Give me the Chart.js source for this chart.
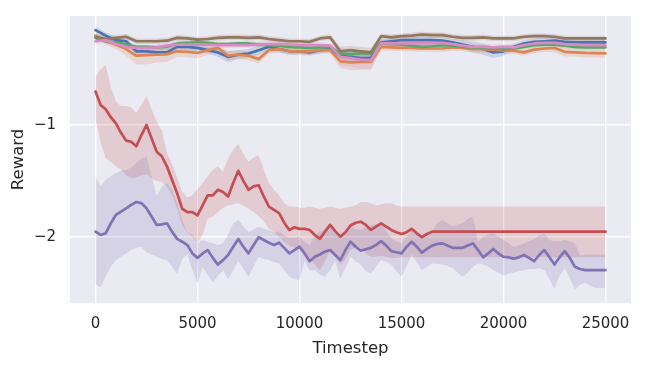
<!DOCTYPE html>
<html><head><meta charset="utf-8">
<script src="https://cdn.jsdelivr.net/npm/chart.js@4/dist/chart.umd.min.js"></script>
<style>html,body{margin:0;padding:0;background:#fff;}canvas{display:block;}</style>
</head><body>
<canvas id="c" width="647" height="367"></canvas>
<script>
// ---- data ----
const timestepsFine = [0,250,500,750,1000,1250,1500,1750,2000,2250,2500,2750,3000,3250,3500,3750,4000,4250,4500,4750,5000,5250,5500,5750,6000,6250,6500,6750,7000,7250,7500,7750,8000,8250,8500,8750,9000,9250,9500,9750,10000,10250,10500,10750,11000,11250,11500,11750,12000,12250,12500,12750,13000,13250,13500,13750,14000,14250,14500,14750,15000,15250,15500,15750,16000,16250,16500,16750,17000,17250,17500,17750,18000,18250,18500,18750,19000,19250,19500,19750,20000,20250,20500,20750,21000,21250,21500,21750,22000,22250,22500,22750,23000,23250,23500,23750,24000,24250,24500,24750,25000];
const timestepsCoarse = [0,500,1000,1500,2000,2500,3000,3500,4000,4500,5000,5500,6000,6500,7000,7500,8000,8500,9000,9500,10000,10500,11000,11500,12000,12500,13000,13500,14000,14500,15000,15500,16000,16500,17000,17500,18000,18500,19000,19500,20000,20500,21000,21500,22000,22500,23000,23500,24000,24500,25000];

const xTicks = [0,5000,10000,15000,20000,25000];
const yTicks = [-2,-1];

const blueMean = [-0.15,-0.20,-0.24,-0.25,-0.34,-0.34,-0.35,-0.35,-0.30,-0.30,-0.31,-0.33,-0.35,-0.39,-0.37,-0.36,-0.33,-0.30,-0.32,-0.34,-0.34,-0.35,-0.33,-0.32,-0.38,-0.39,-0.40,-0.40,-0.26,-0.25,-0.24,-0.24,-0.24,-0.24,-0.245,-0.26,-0.28,-0.30,-0.32,-0.35,-0.34,-0.30,-0.27,-0.255,-0.25,-0.245,-0.255,-0.26,-0.26,-0.26,-0.26];
const blueSpread = [0.03,0.03,0.03,0.03,0.03,0.03,0.03,0.03,0.03,0.03,0.03,0.03,0.04,0.05,0.04,0.04,0.04,0.03,0.03,0.03,0.03,0.03,0.03,0.03,0.04,0.04,0.04,0.04,0.03,0.03,0.03,0.03,0.03,0.03,0.03,0.03,0.04,0.05,0.05,0.05,0.04,0.03,0.03,0.03,0.03,0.03,0.03,0.03,0.03,0.03,0.03];

const orangeMean = [-0.20,-0.25,-0.28,-0.32,-0.38,-0.375,-0.37,-0.365,-0.34,-0.345,-0.355,-0.33,-0.31,-0.38,-0.37,-0.38,-0.41,-0.33,-0.32,-0.34,-0.34,-0.34,-0.33,-0.33,-0.43,-0.44,-0.435,-0.435,-0.30,-0.305,-0.31,-0.31,-0.315,-0.315,-0.315,-0.305,-0.31,-0.32,-0.32,-0.325,-0.335,-0.335,-0.35,-0.325,-0.315,-0.31,-0.345,-0.35,-0.355,-0.357,-0.358];
const orangeSpread = [0.02,0.03,0.04,0.06,0.08,0.08,0.07,0.07,0.05,0.05,0.05,0.04,0.04,0.04,0.04,0.04,0.04,0.03,0.03,0.03,0.03,0.03,0.03,0.03,0.06,0.07,0.07,0.07,0.03,0.03,0.03,0.03,0.03,0.03,0.03,0.03,0.03,0.03,0.03,0.03,0.03,0.03,0.03,0.03,0.03,0.04,0.04,0.04,0.04,0.04,0.04];

const greenMean = [-0.22,-0.25,-0.26,-0.28,-0.30,-0.30,-0.305,-0.30,-0.27,-0.265,-0.26,-0.265,-0.275,-0.275,-0.27,-0.27,-0.28,-0.285,-0.29,-0.30,-0.305,-0.31,-0.305,-0.30,-0.36,-0.365,-0.36,-0.36,-0.27,-0.275,-0.28,-0.29,-0.30,-0.295,-0.285,-0.29,-0.30,-0.305,-0.31,-0.315,-0.32,-0.315,-0.30,-0.285,-0.28,-0.28,-0.29,-0.30,-0.305,-0.305,-0.305];
const greenSpread = [0.02,0.02,0.02,0.02,0.02,0.02,0.02,0.02,0.02,0.02,0.02,0.02,0.02,0.02,0.02,0.02,0.02,0.02,0.02,0.02,0.02,0.02,0.02,0.02,0.03,0.03,0.03,0.03,0.02,0.02,0.02,0.02,0.02,0.02,0.02,0.02,0.02,0.02,0.02,0.02,0.02,0.02,0.02,0.02,0.02,0.02,0.02,0.02,0.02,0.02,0.02];

const redMean = [-0.70,-0.82,-0.86,-0.93,-0.985,-1.07,-1.14,-1.15,-1.19,-1.09,
 -1.00,-1.12,-1.24,-1.28,-1.37,-1.49,-1.61,-1.75,-1.78,-1.78,
 -1.81,-1.72,-1.63,-1.63,-1.58,-1.60,-1.64,-1.52,-1.41,-1.50,
 -1.58,-1.55,-1.54,-1.64,-1.73,-1.76,-1.79,-1.875,-1.94,-1.916,
 -1.93,-1.93,-1.94,-1.985,-2.02,-1.955,-1.895,-1.95,-2.00,-1.96,
 -1.90,-1.875,-1.866,-1.895,-1.94,-1.91,-1.88,-1.91,-1.94,-1.96,
 -1.976,-1.96,-1.93,-1.97,-2.005,-1.976,-1.955,-1.955,-1.955,-1.955,
 -1.955,-1.955,-1.955,-1.955,-1.955,-1.955,-1.955,-1.955,-1.955,-1.955,
 -1.955,-1.955,-1.955,-1.955,-1.955,-1.955,-1.955,-1.955,-1.955,-1.955,
 -1.955,-1.955,-1.955,-1.955,-1.955,-1.955,-1.955,-1.955,-1.955,-1.955,
 -1.955];
const redUpper = [-0.57,-0.50,-0.46,-0.66,-0.79,-0.83,-0.83,-0.84,-0.89,-0.82,
 -0.74,-0.86,-0.97,-1.05,-1.25,-1.35,-1.47,-1.60,-1.65,-1.63,
 -1.57,-1.52,-1.46,-1.40,-1.37,-1.42,-1.30,-1.22,-1.17,-1.26,
 -1.33,-1.29,-1.27,-1.40,-1.52,-1.58,-1.63,-1.70,-1.73,-1.73,
 -1.74,-1.74,-1.73,-1.74,-1.75,-1.74,-1.73,-1.74,-1.75,-1.74,
 -1.73,-1.72,-1.69,-1.69,-1.70,-1.72,-1.71,-1.70,-1.70,-1.72,
 -1.73,-1.73,-1.73,-1.73,-1.73,-1.73,-1.73,-1.73,-1.73,-1.73,
 -1.73,-1.73,-1.73,-1.73,-1.73,-1.73,-1.73,-1.73,-1.73,-1.73,
 -1.73,-1.73,-1.73,-1.73,-1.73,-1.73,-1.73,-1.73,-1.73,-1.73,
 -1.73,-1.73,-1.73,-1.73,-1.73,-1.73,-1.73,-1.73,-1.73,-1.73,
 -1.73];
const redLower = [-0.95,-1.15,-1.30,-1.33,-1.37,-1.40,-1.45,-1.48,-1.47,-1.45,
 -1.44,-1.48,-1.50,-1.51,-1.55,-1.63,-1.75,-1.90,-1.96,-2.00,
 -2.06,-1.98,-1.84,-1.82,-1.78,-1.74,-1.72,-1.71,-1.70,-1.72,
 -1.75,-1.78,-1.82,-1.86,-1.93,-1.96,-2.00,-2.05,-2.08,-2.10,
 -2.12,-2.15,-2.20,-2.25,-2.30,-2.22,-2.12,-2.18,-2.25,-2.20,
 -2.12,-2.10,-2.10,-2.15,-2.18,-2.18,-2.17,-2.18,-2.19,-2.19,
 -2.185,-2.185,-2.185,-2.185,-2.185,-2.185,-2.185,-2.185,-2.185,-2.185,
 -2.185,-2.185,-2.185,-2.185,-2.185,-2.185,-2.185,-2.185,-2.185,-2.185,
 -2.185,-2.185,-2.185,-2.185,-2.185,-2.185,-2.185,-2.185,-2.185,-2.185,
 -2.185,-2.185,-2.185,-2.185,-2.185,-2.185,-2.185,-2.185,-2.185,-2.185,
 -2.185];

const purpleMean = [-1.955,-1.985,-1.97,-1.88,-1.805,-1.776,-1.746,-1.716,-1.69,-1.70,
 -1.746,-1.82,-1.895,-1.89,-1.88,-1.955,-2.02,-2.045,-2.075,-2.15,
 -2.19,-2.15,-2.12,-2.19,-2.25,-2.21,-2.164,-2.09,-2.02,-2.09,
 -2.15,-2.075,-2.005,-2.03,-2.054,-2.075,-2.054,-2.10,-2.15,-2.12,
 -2.09,-2.15,-2.22,-2.18,-2.16,-2.134,-2.12,-2.164,-2.21,-2.12,
 -2.045,-2.09,-2.125,-2.113,-2.10,-2.075,-2.04,-2.08,-2.13,-2.14,
 -2.15,-2.09,-2.045,-2.09,-2.143,-2.11,-2.08,-2.065,-2.06,-2.08,
 -2.10,-2.10,-2.10,-2.08,-2.06,-2.12,-2.185,-2.15,-2.11,-2.15,
 -2.18,-2.185,-2.197,-2.185,-2.164,-2.19,-2.22,-2.164,-2.12,-2.185,
 -2.25,-2.185,-2.13,-2.19,-2.27,-2.29,-2.30,-2.30,-2.30,-2.30,
 -2.30];
const purpleUpper = [-1.46,-1.546,-1.49,-1.46,-1.43,-1.41,-1.40,-1.38,-1.34,-1.30,
 -1.285,-1.46,-1.64,-1.55,-1.52,-1.58,-1.70,-1.85,-1.955,-1.985,
 -2.06,-2.03,-2.045,-2.06,-2.075,-2.06,-1.98,-1.88,-1.85,-1.91,
 -1.955,-1.935,-1.91,-1.93,-1.94,-1.965,-1.955,-1.985,-2.01,-2.01,
 -2.00,-2.05,-2.08,-1.985,-1.955,-1.94,-1.92,-1.96,-1.99,-1.95,
 -1.91,-1.93,-1.94,-1.92,-1.895,-1.89,-1.88,-1.95,-2.015,-2.04,
 -2.06,-2.00,-1.94,-1.97,-2.00,-2.00,-1.95,-1.88,-1.85,-1.88,
 -1.91,-1.89,-1.88,-1.84,-1.82,-2.045,-2.00,-1.98,-1.97,-2.00,
 -2.03,-2.06,-2.09,-2.08,-2.06,-2.04,-2.02,-1.99,-1.97,-2.03,
 -2.04,-2.04,-2.03,-2.04,-2.06,-2.17,-2.16,-2.16,-2.16,-2.16,
 -2.16];
const purpleLower = [-2.43,-2.45,-2.36,-2.27,-2.21,-2.18,-2.15,-2.12,-2.10,-2.09,
 -2.14,-2.16,-2.18,-2.20,-2.21,-2.27,-2.33,-2.20,-2.16,-2.30,
 -2.42,-2.27,-2.34,-2.41,-2.35,-2.30,-2.38,-2.30,-2.22,-2.29,
 -2.36,-2.27,-2.18,-2.20,-2.21,-2.23,-2.24,-2.30,-2.36,-2.38,
 -2.39,-2.22,-2.30,-2.30,-2.34,-2.36,-2.30,-2.22,-2.38,-2.28,
 -2.18,-2.22,-2.25,-2.31,-2.33,-2.27,-2.21,-2.23,-2.25,-2.31,
 -2.36,-2.26,-2.16,-2.23,-2.30,-2.27,-2.24,-2.24,-2.25,-2.26,
 -2.28,-2.32,-2.36,-2.32,-2.27,-2.24,-2.25,-2.27,-2.30,-2.32,
 -2.35,-2.33,-2.32,-2.31,-2.30,-2.29,-2.29,-2.28,-2.30,-2.38,
 -2.47,-2.35,-2.28,-2.37,-2.47,-2.43,-2.41,-2.44,-2.46,-2.46,
 -2.46];

const brownMean = [-0.21,-0.23,-0.22,-0.21,-0.25,-0.25,-0.25,-0.245,-0.22,-0.225,-0.235,-0.23,-0.22,-0.215,-0.215,-0.22,-0.215,-0.23,-0.24,-0.25,-0.25,-0.255,-0.225,-0.215,-0.34,-0.33,-0.34,-0.35,-0.205,-0.215,-0.205,-0.20,-0.19,-0.195,-0.195,-0.21,-0.22,-0.22,-0.215,-0.225,-0.225,-0.225,-0.21,-0.205,-0.205,-0.21,-0.225,-0.225,-0.225,-0.225,-0.225];
const brownSpread = [0.025,0.025,0.025,0.025,0.025,0.025,0.025,0.025,0.025,0.025,0.025,0.025,0.025,0.025,0.025,0.025,0.025,0.025,0.025,0.025,0.025,0.025,0.025,0.025,0.04,0.04,0.04,0.04,0.025,0.025,0.025,0.025,0.025,0.025,0.025,0.025,0.025,0.025,0.025,0.025,0.025,0.025,0.025,0.025,0.025,0.025,0.025,0.025,0.025,0.025,0.025];

const pinkMean = [-0.25,-0.24,-0.275,-0.30,-0.31,-0.31,-0.305,-0.29,-0.28,-0.28,-0.28,-0.28,-0.285,-0.285,-0.285,-0.285,-0.28,-0.275,-0.275,-0.28,-0.285,-0.285,-0.285,-0.29,-0.39,-0.40,-0.415,-0.42,-0.27,-0.27,-0.27,-0.27,-0.27,-0.27,-0.265,-0.275,-0.29,-0.30,-0.30,-0.305,-0.30,-0.305,-0.285,-0.27,-0.265,-0.265,-0.275,-0.28,-0.285,-0.285,-0.287];
const pinkSpread = [0.025,0.025,0.025,0.025,0.025,0.025,0.025,0.025,0.025,0.025,0.025,0.025,0.025,0.025,0.025,0.025,0.025,0.025,0.025,0.025,0.025,0.025,0.025,0.025,0.08,0.08,0.08,0.08,0.025,0.025,0.025,0.025,0.025,0.025,0.025,0.025,0.025,0.025,0.025,0.025,0.025,0.025,0.025,0.025,0.025,0.025,0.025,0.025,0.025,0.025,0.025];

// ---- build ----
const pts = (ts, ys) => ts.map((t, i) => ({x: t, y: ys[i]}));
const series = [
  {color:'#4C72B0', t:timestepsCoarse, mean:blueMean, lower:blueMean.map((m,i)=>m-blueSpread[i]), upper:blueMean.map((m,i)=>m+blueSpread[i])},
  {color:'#DD8452', t:timestepsCoarse, mean:orangeMean, lower:orangeMean.map((m,i)=>m-orangeSpread[i]), upper:orangeMean.map((m,i)=>m+orangeSpread[i])},
  {color:'#55A868', t:timestepsCoarse, mean:greenMean, lower:greenMean.map((m,i)=>m-greenSpread[i]), upper:greenMean.map((m,i)=>m+greenSpread[i])},
  {color:'#C44E52', t:timestepsFine, mean:redMean, lower:redLower, upper:redUpper},
  {color:'#8172B3', t:timestepsFine, mean:purpleMean, lower:purpleLower, upper:purpleUpper},
  {color:'#937860', t:timestepsCoarse, mean:brownMean, lower:brownMean.map((m,i)=>m-brownSpread[i]), upper:brownMean.map((m,i)=>m+brownSpread[i])},
  {color:'#DA8BC3', t:timestepsCoarse, mean:pinkMean, lower:pinkMean.map((m,i)=>m-pinkSpread[i]), upper:pinkMean.map((m,i)=>m+pinkSpread[i])}
];
function rgba(hex, a){const n=parseInt(hex.slice(1),16);return `rgba(${n>>16&255},${n>>8&255},${n&255},${a})`;}

const datasets = [];
let drawIdx = 0;
series.forEach(s => {
  datasets.push({data: pts(s.t, s.lower), borderWidth:0, pointRadius:0, fill:false, order:1000-(drawIdx++)});
  datasets.push({data: pts(s.t, s.upper), borderWidth:0, pointRadius:0, fill:'-1', backgroundColor: rgba(s.color,0.2), order:1000-(drawIdx++)});
});
series.forEach(s => {
  datasets.push({data: pts(s.t, s.mean), borderColor:s.color, borderWidth:2.7, borderJoinStyle:'round', borderCapStyle:'round', pointRadius:0, fill:false, order:1000-(drawIdx++)});
});

const bg = {id:'bg', beforeDraw(chart){const {ctx, chartArea:a}=chart; ctx.save(); ctx.fillStyle='#fff'; ctx.fillRect(0,0,chart.width,chart.height); ctx.fillStyle='#EAEAF2'; ctx.fillRect(a.left,a.top,a.right-a.left,a.bottom-a.top); ctx.restore();}};

const FONT = 'DejaVu Sans';
const TXT = '#262626';
new Chart(document.getElementById('c'), {
  type:'line',
  data:{datasets},
  plugins:[bg],
  options:{
    responsive:false, animation:false, normalized:true,
    layout:{padding:{top:16,right:16,left:0,bottom:0}},
    plugins:{legend:{display:false}, tooltip:{enabled:false}},
    elements:{line:{tension:0}},
    scales:{
      x:{type:'linear', min:-1250, max:26250,
        afterBuildTicks:(s)=>{s.ticks = xTicks.map(v=>({value:v}));},
        afterFit:(s)=>{s.height = 64; s.paddingLeft = 0; s.paddingRight = 0;},
        grid:{color:'#ffffff', lineWidth:1.4, drawTicks:false},
        border:{display:false},
        ticks:{autoSkip:false, maxRotation:0, padding:12, color:TXT, font:{family:FONT, size:15}, callback:(v)=>String(v)},
        title:{display:true, text:'Timestep', color:TXT, font:{family:FONT, size:16.5}, padding:{top:0,bottom:8}}
      },
      y:{type:'linear', min:-2.594, max:-0.024,
        afterBuildTicks:(s)=>{s.ticks = yTicks.map(v=>({value:v}));},
        afterFit:(s)=>{s.width = 70; s.paddingTop = 0; s.paddingBottom = 0;},
        grid:{color:'#ffffff', lineWidth:1.4, drawTicks:false},
        border:{display:false},
        ticks:{padding:14, color:TXT, font:{family:FONT, size:15}, callback:(v)=>(v<0?'\u2212':'')+Math.abs(v)},
        title:{display:true, text:'Reward', color:TXT, font:{family:FONT, size:16.5}, padding:{top:9,bottom:0}}
      }
    }
  }
});
</script>
</body></html>
